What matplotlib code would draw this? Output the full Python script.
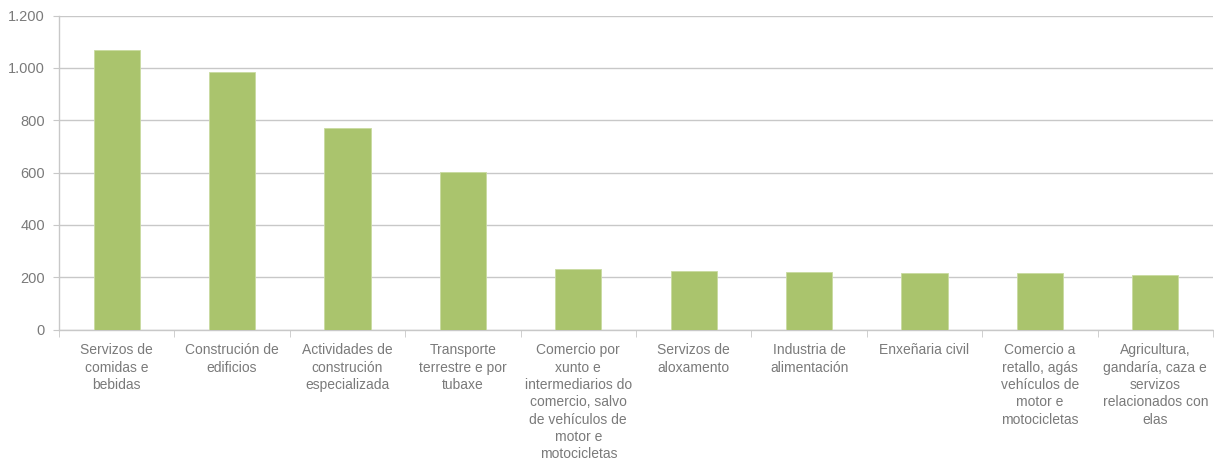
import numpy as np
import matplotlib.pyplot as plt

plt.rcParams['font.family'] = ['Liberation Sans', 'DejaVu Sans']

categories = [
    'Servizos de\ncomidas e\nbebidas',
    'Construción de\nedificios',
    'Actividades de\nconstrución\nespecializada',
    'Transporte\nterrestre e por\ntubaxe',
    'Comercio por\nxunto e\nintermediarios do\ncomercio, salvo\nde vehículos de\nmotor e\nmotocicletas',
    'Servizos de\naloxamento',
    'Industria de\nalimentación',
    'Enxeñaria civil',
    'Comercio a\nretallo, agás\nvehículos de\nmotor e\nmotocicletas',
    'Agricultura,\ngandaría, caza e\nservizos\nrelacionados con\nelas',
]
values = [1068, 984, 770, 602, 231, 225, 219, 217, 217, 207]
yticks = [0, 200, 400, 600, 800, 1000, 1200]
ytick_labels = ['0', '200', '400', '600', '800', '1.000', '1.200']

grey = '#7A7A7A'
line_grey = '#C8C8C8'

fig = plt.figure(figsize=(12.14, 4.59), dpi=100)
ax = fig.add_axes([59 / 1214, 1 - 329.5 / 459, 1154 / 1214, 314 / 459])

x = np.arange(len(categories))
ax.bar(x, values, width=0.4, color='#AAC46D', edgecolor='#C9DBA0', linewidth=0.6, zorder=3)

ax.set_xlim(-0.5, len(categories) - 0.5)
ax.set_ylim(0, 1200)
ax.set_yticks(yticks)
ax.set_yticklabels(ytick_labels)
ax.yaxis.grid(True, color=line_grey, linewidth=1, zorder=0)

ax.set_xticks(x)
ax.set_xticklabels(categories, linespacing=1.3, va='top')
ax.set_xticks(np.arange(-0.5, len(categories), 1), minor=True)
ax.tick_params(axis='x', which='major', length=0, pad=10, labelsize=10, labelcolor=grey)
ax.tick_params(axis='x', which='minor', length=5, color=line_grey, direction='out')
ax.tick_params(axis='y', length=4, color=line_grey, labelsize=10.5, labelcolor=grey, pad=6)

for side in ['top', 'right']:
    ax.spines[side].set_visible(False)
for side in ['left', 'bottom']:
    ax.spines[side].set_color(line_grey)
    ax.spines[side].set_linewidth(1)

fig.savefig('out.png', dpi=100)
